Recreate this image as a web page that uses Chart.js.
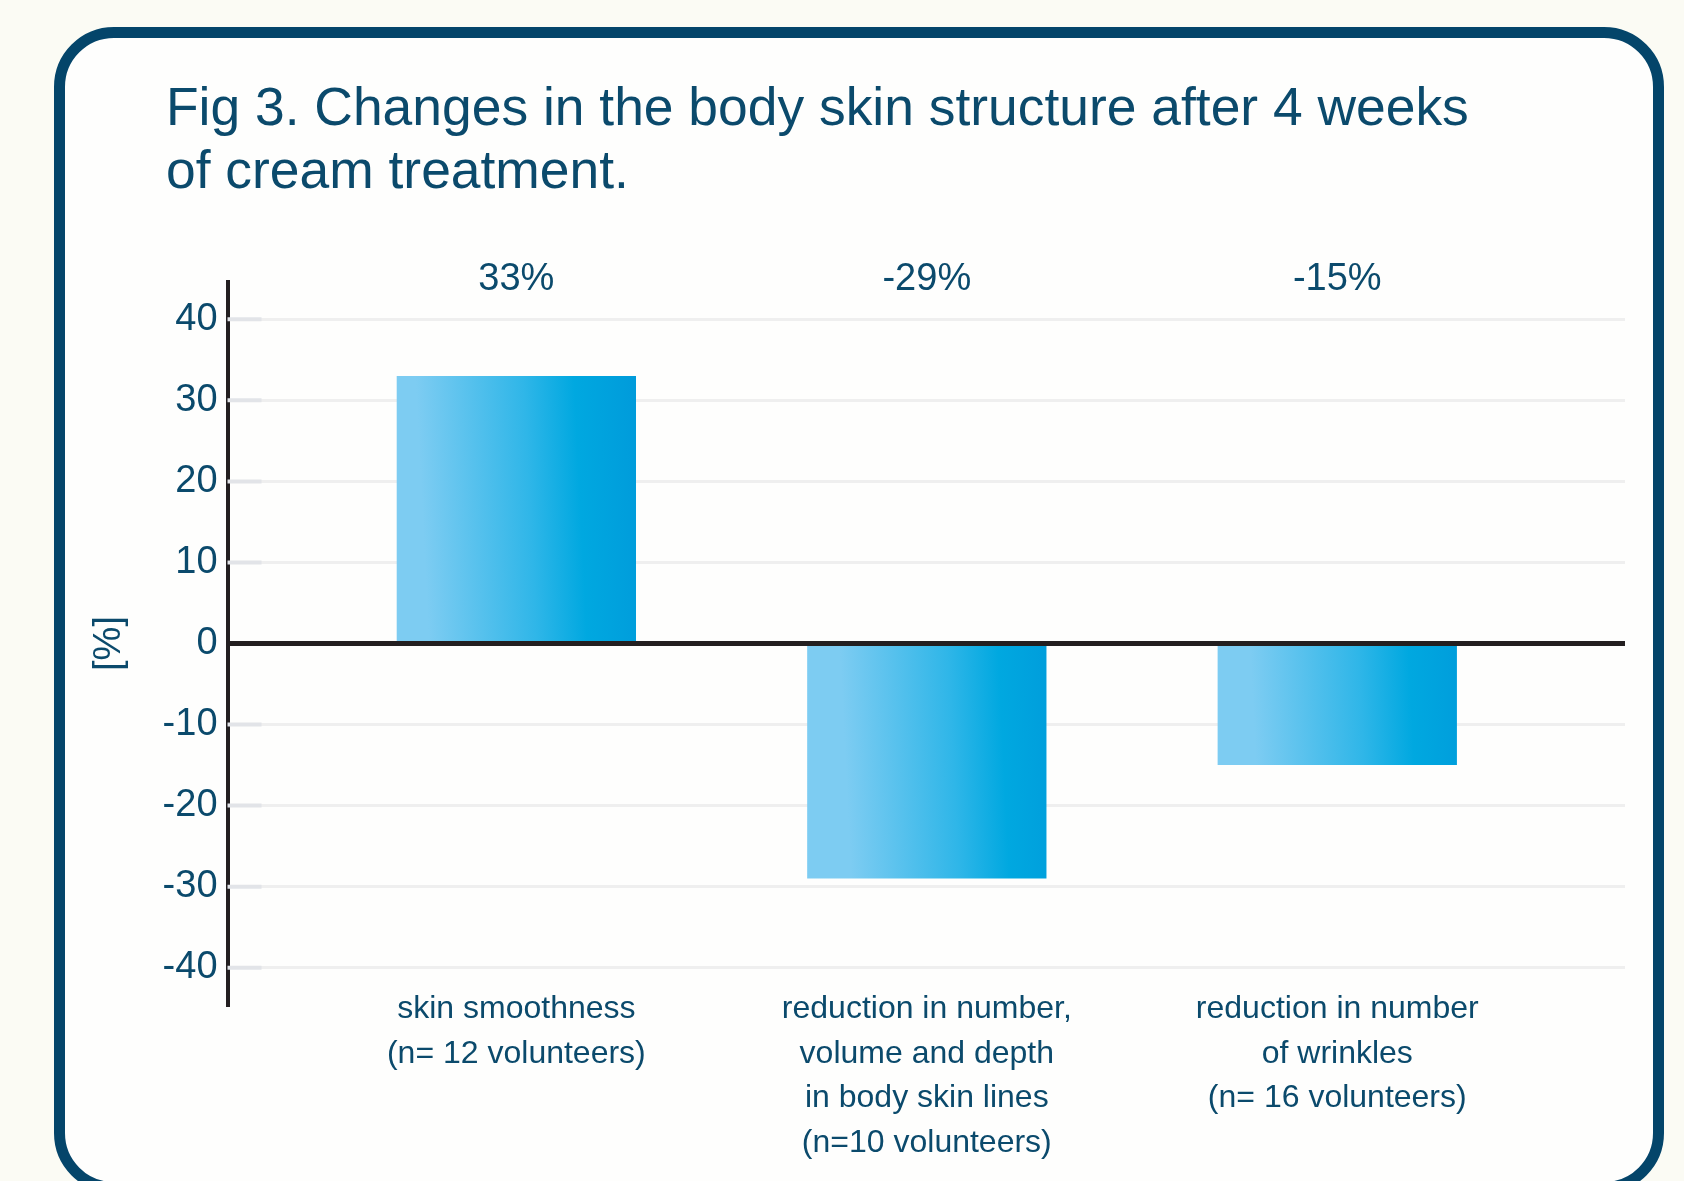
<!DOCTYPE html>
<html>
<head>
<meta charset="utf-8">
<script src="https://cdn.jsdelivr.net/npm/chart.js@4.4.0/dist/chart.umd.min.js"></script>
<style>
html,body{margin:0;padding:0;background:#fbfbf4;}
#wrap{position:relative;width:1684px;height:1181px;overflow:hidden;background:#fbfbf4;}
#frame{position:absolute;left:54px;top:27px;width:1610px;height:1166px;box-sizing:border-box;border:11px solid #04456a;border-radius:60px;background:#fefefd;}
#title{position:absolute;left:166px;top:75px;margin:0;font-weight:normal;font-size:53.4px;line-height:63px;font-family:"Liberation Sans",Arial,sans-serif;color:#0b4a6c;white-space:nowrap;}
#c{position:absolute;left:0;top:0;}
</style>
</head>
<body>
<div id="wrap">
  <div id="frame"></div>
  <h1 id="title"></h1>
  <canvas id="c" width="1684" height="1181"></canvas>
</div>
<script>
// ---- data ----
const titleLines = ["Fig 3. Changes in the body skin structure after 4 weeks", "of cream treatment."];
const categories = [
  ["skin smoothness", "(n= 12 volunteers)"],
  ["reduction in number,", "volume and depth", "in body skin lines", "(n=10 volunteers)"],
  ["reduction in number", "of wrinkles", "(n= 16 volunteers)"]
];
const values = [33, -29, -15];
const valueLabels = ["33%", "-29%", "-15%"];
const yTicks = [-40, -30, -20, -10, 0, 10, 20, 30, 40];
const yAxisTitle = "[%]";

// ---- styling ----
const TEXT = '#0b4a6c';
const BASE_FONT = '"Liberation Sans", Arial, sans-serif';

document.getElementById('title').innerHTML = titleLines.join('<br>');

function hasFont(name) {
  const c = document.createElement('canvas').getContext('2d');
  const t = 'abcdefghijklmnopqrstuvwxyz ABCDEFGHIJ 0123456789';
  c.font = '40px monospace';
  const a = c.measureText(t).width;
  c.font = '40px "' + name + '", monospace';
  return c.measureText(t).width !== a;
}
let catFont = {family: BASE_FONT, size: 32};
if (hasFont('Liberation Sans Narrow')) catFont = {family: '"Liberation Sans Narrow", ' + BASE_FONT, size: 39};
const CAT_LH = 44.6;
const LABEL_RAISE = 20;
const X_AXIS_HEIGHT = 164;

// category labels start slightly above the bottom of the plot area, as in the original
const raiseLabels = {
  id: 'raiseLabels',
  afterLayout(chart) {
    chart.scales.x.top -= LABEL_RAISE;
  }
};

const innerTicks = {
  id: 'innerTicks',
  beforeDatasetsDraw(chart) {
    const {ctx, chartArea, scales: {y}} = chart;
    ctx.save();
    ctx.strokeStyle = '#e2e4e8';
    ctx.lineWidth = 4;
    y.ticks.forEach(t => {
      if (t.value === 0) return;
      const py = y.getPixelForValue(t.value);
      ctx.beginPath();
      ctx.moveTo(chartArea.left, py);
      ctx.lineTo(chartArea.left + 34, py);
      ctx.stroke();
    });
    ctx.restore();
  }
};

const topLabels = {
  id: 'topLabels',
  afterDatasetsDraw(chart) {
    const {ctx, chartArea} = chart;
    const meta = chart.getDatasetMeta(0);
    ctx.save();
    ctx.fillStyle = TEXT;
    ctx.font = '38px ' + BASE_FONT;
    ctx.textAlign = 'center';
    ctx.textBaseline = 'alphabetic';
    meta.data.forEach((el, i) => {
      ctx.fillText(valueLabels[i], el.x, chartArea.top + 8);
    });
    ctx.restore();
  }
};

function barGradient(ctx) {
  const chart = ctx.chart;
  const xs = chart.scales && chart.scales.x;
  if (!xs || ctx.dataIndex === undefined) return '#00a8e1';
  const c = xs.getPixelForValue(ctx.dataIndex);
  const step = xs.getPixelForValue(1) - xs.getPixelForValue(0);
  if (!isFinite(c) || !isFinite(step) || step <= 0) return '#00a8e1';
  const half = step * 0.583 / 2;
  const g = chart.ctx.createLinearGradient(c - half, 0, c + half, -12);
  g.addColorStop(0, '#7dccf2');
  g.addColorStop(0.45, '#2fb6e8');
  g.addColorStop(0.66, '#00a8e0');
  g.addColorStop(1, '#0097d9');
  return g;
}

new Chart(document.getElementById('c'), {
  type: 'bar',
  data: {
    datasets: [{
      data: values.map((v, i) => ({x: i, y: v})),
      backgroundColor: barGradient,
      borderWidth: 0,
      categoryPercentage: 1,
      barPercentage: 0.583
    }]
  },
  options: {
    responsive: false,
    animation: false,
    events: [],
    layout: {padding: {left: 87, right: 59, top: 282, bottom: 12}},
    plugins: {legend: {display: false}, tooltip: {enabled: false}, title: {display: false}},
    scales: {
      x: {
        type: 'linear',
        min: -0.7037,
        max: 2.701,
        offset: false,
        grid: {display: false, drawTicks: false},
        border: {display: false},
        afterBuildTicks: s => { s.ticks = categories.map((_, i) => ({value: i})); },
        afterFit: s => { s.height = X_AXIS_HEIGHT; },
        ticks: {
          autoSkip: false, maxRotation: 0, minRotation: 0,
          padding: 2,
          color: TEXT,
          font: {family: catFont.family, size: catFont.size, lineHeight: CAT_LH / catFont.size},
          callback: v => categories[v] || ''
        }
      },
      y: {
        min: -44.6,
        max: 44.6,
        afterBuildTicks: s => { s.ticks = yTicks.map(v => ({value: v})); },
        ticks: {color: TEXT, font: {family: BASE_FONT, size: 38}, padding: 10},
        grid: {
          drawTicks: false,
          color: c => c.tick && c.tick.value === 0 ? '#231f20' : '#efefef',
          lineWidth: c => c.tick && c.tick.value === 0 ? 5 : 3
        },
        border: {display: true, color: '#231f20', width: 4},
        title: {display: true, text: yAxisTitle, color: TEXT, font: {family: BASE_FONT, size: 38}, padding: {top: 0, bottom: 20}}
      }
    }
  },
  plugins: [raiseLabels, innerTicks, topLabels]
});
</script>
</body>
</html>
